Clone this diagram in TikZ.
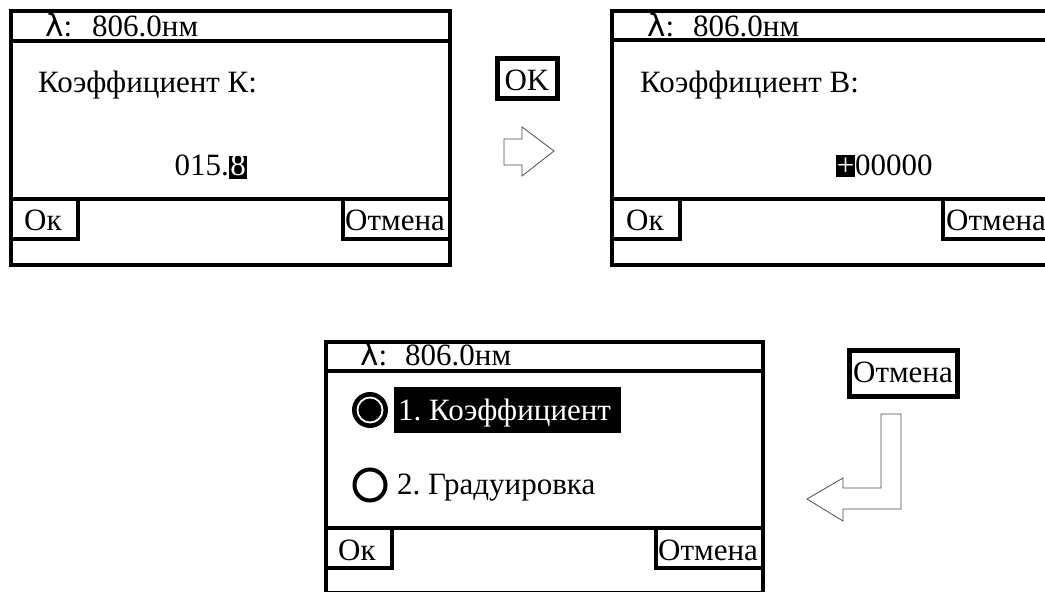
\documentclass[tikz,border=0pt]{standalone}
\usepackage{fontspec}
\setmainfont{Liberation Serif}
\newfontfamily\lamfont{DejaVu Sans}
\begin{document}
\frenchspacing
\begin{tikzpicture}[x=1pt,y=-1pt,
  frame/.style={draw=black,line width=4pt},
  btn/.style={draw=black,line width=5pt},
  blockarrow/.style={draw=black!70,line width=0.8pt,fill=white,line join=miter},
  txt/.style={anchor=base west,inner sep=0pt,font=\fontsize{31}{35}\selectfont},
  hl/.style={fill=black},
  htxt/.style={anchor=base west,inner sep=0pt,text=white,font=\fontsize{31}{35}\selectfont}]
\path[use as bounding box] (0,0) rectangle (1045,592);
\clip (0,0) rectangle (1045,592);

% ---------- screen 1 ----------
\draw[frame] (11,11) rectangle (450,265);
\draw[frame] (11,41) -- (450,41);
\draw[frame] (11,199) -- (450,199);
\draw[frame] (11,239) -- (78,239) -- (78,199);
\draw[frame] (450,239) -- (343,239) -- (343,199);
\node[txt] (s1lam) at (45,36) {\lamfont λ\rmfamily:};
\node[txt] (s1wl) at (92,36) {806.0нм};
\node[txt] (s1title) at (38,92) {Коэффициент К:};
\node[txt,anchor=base east] (s1val) at (229,175) {015.};
\fill[hl] (229,156) rectangle (247,179);
\node[htxt,anchor=base] (s1cur) at (238,175) {8};
\node[txt] (s1ok) at (24,230) {Ок};
\node[txt] (s1cancel) at (345,230) {Отмена};

% ---------- OK key and arrow ----------
\draw[btn] (497,58) rectangle (557,98);
\node[txt,anchor=base] (okkey) at (527,90) {OK};
\draw[blockarrow] (504,139) -- (522,139) -- (522,127) -- (554,151) -- (522,176) -- (522,165) -- (504,165) -- cycle;

% ---------- screen 2 ----------
\draw[frame] (612,11) rectangle (1060,265);
\draw[frame] (612,40) -- (1060,40);
\draw[frame] (612,199) -- (1060,199);
\draw[frame] (612,239) -- (680,239) -- (680,199);
\draw[frame] (1060,239) -- (943,239) -- (943,199);
\node[txt] (s2lam) at (647,36) {\lamfont λ\rmfamily:};
\node[txt] (s2wl) at (693,36) {806.0нм};
\node[txt] (s2title) at (640,92) {Коэффициент B:};
\fill[hl] (836,155) rectangle (855,177);
\node[htxt,anchor=base] (s2cur) at (845.5,175) {+};
\node[txt] (s2val) at (855,175) {00000};
\node[txt] (s2ok) at (626,230) {Ок};
\node[txt] (s2cancel) at (946,230) {Отмена};

% ---------- screen 3 ----------
\draw[frame] (326,342) rectangle (763,593);
\draw[frame] (326,371) -- (763,371);
\draw[frame] (326,528) -- (763,528);
\draw[frame] (326,568) -- (392,568) -- (392,528);
\draw[frame] (763,568) -- (656,568) -- (656,528);
\node[txt] (s3lam) at (360,365) {\lamfont λ\rmfamily:};
\node[txt] (s3wl) at (405,365) {806.0нм};
\fill[black] (370,410) circle (18);
\draw[white,line width=1.8pt] (370,410) circle (12.5);
\fill[hl] (394,387) rectangle (621,433);
\node[htxt] (s3item1) at (398,420) {1. Коэффициент};
\draw[black,line width=4pt,fill=white] (370,485) circle (15.5);
\node[txt] (s3item2) at (397,494) {2. Градуировка};
\node[txt] (s3ok) at (338,560) {Ок};
\node[txt] (s3cancel) at (658,560) {Отмена};

% ---------- Cancel key and arrow ----------
\draw[btn] (849,350) rectangle (957,396);
\node[txt,anchor=base] (cancelkey) at (903,382) {Отмена};
\draw[blockarrow] (881,414) -- (901,414) -- (901,509) -- (843,509) -- (843,521) -- (807,499) -- (843,478) -- (843,488) -- (881,488) -- cycle;
\end{tikzpicture}
\end{document}
